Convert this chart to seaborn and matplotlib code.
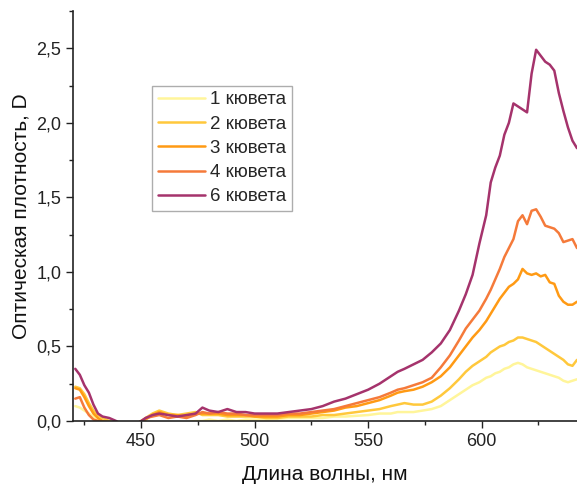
import numpy as np
import pandas as pd
import matplotlib
matplotlib.use('Agg')
import matplotlib.pyplot as plt
from matplotlib.ticker import MultipleLocator, FuncFormatter
import seaborn as sns

# wavelength grid, nm
wavelength = [421, 423, 425, 427, 429, 431, 433, 436, 439, 442, 445, 449,
              452, 455, 458, 462, 466, 470, 474, 477, 480, 484, 488, 492, 496, 500,
              505, 510, 515, 520, 525, 530, 535, 540, 545, 550, 555, 560,
              563, 566, 570, 574, 578, 582, 586, 590,
              593, 596, 599, 602,
              604, 606, 608, 610, 612, 614, 616, 618, 620, 622,
              624, 626, 628, 630, 632, 634, 636, 638, 640, 642]

cuvette_1 = [0.10, 0.09, 0.07, 0.05, 0.03, 0.01, 0.00, -0.03, -0.03, -0.03, -0.03, -0.03,
             -0.02, -0.01, -0.01, -0.01, -0.01, -0.01, 0.00, 0.00, 0.01, 0.00, 0.01, 0.00, 0.01, 0.01,
             0.01, 0.015, 0.02, 0.02, 0.02, 0.02, 0.03, 0.03, 0.035, 0.04, 0.05, 0.05,
             0.06, 0.06, 0.06, 0.07, 0.08, 0.10, 0.14, 0.18,
             0.21, 0.24, 0.26, 0.29,
             0.30, 0.32, 0.33, 0.35, 0.36, 0.38, 0.39, 0.38, 0.36, 0.35,
             0.34, 0.33, 0.32, 0.31, 0.30, 0.29, 0.27, 0.26, 0.27, 0.28]

cuvette_2 = [0.23, 0.22, 0.18, 0.12, 0.07, 0.04, 0.02, 0.00, -0.02, -0.03, -0.03, -0.01,
             0.02, 0.05, 0.07, 0.05, 0.04, 0.05, 0.06, 0.04, 0.04, 0.04, 0.03, 0.03, 0.03, 0.03,
             0.02, 0.02, 0.03, 0.03, 0.03, 0.04, 0.04, 0.05, 0.06, 0.07, 0.08, 0.10,
             0.11, 0.12, 0.11, 0.11, 0.13, 0.17, 0.22, 0.28,
             0.33, 0.37, 0.40, 0.43,
             0.46, 0.48, 0.50, 0.51, 0.53, 0.54, 0.56, 0.56, 0.55, 0.54,
             0.53, 0.51, 0.49, 0.47, 0.45, 0.43, 0.41, 0.38, 0.37, 0.41]

cuvette_3 = [0.22, 0.21, 0.16, 0.10, 0.05, 0.02, 0.00, -0.01, -0.03, -0.03, -0.03, -0.02,
             0.01, 0.04, 0.06, 0.04, 0.04, 0.03, 0.05, 0.05, 0.05, 0.05, 0.04, 0.04, 0.04, 0.03,
             0.03, 0.03, 0.04, 0.04, 0.05, 0.06, 0.07, 0.09, 0.10, 0.12, 0.14, 0.17,
             0.19, 0.20, 0.21, 0.23, 0.26, 0.30, 0.36, 0.44,
             0.50, 0.56, 0.61, 0.67,
             0.72, 0.77, 0.82, 0.86, 0.90, 0.92, 0.95, 1.02, 0.99, 0.98,
             0.99, 0.97, 0.98, 0.93, 0.92, 0.84, 0.80, 0.78, 0.78, 0.80]

cuvette_4 = [0.15, 0.16, 0.09, 0.04, 0.01, 0.00, -0.01, -0.02, -0.03, -0.03, -0.03, -0.02,
             0.02, 0.03, 0.04, 0.02, 0.03, 0.02, 0.04, 0.06, 0.05, 0.06, 0.05, 0.05, 0.04, 0.04,
             0.04, 0.04, 0.05, 0.05, 0.06, 0.07, 0.08, 0.10, 0.12, 0.14, 0.16, 0.19,
             0.21, 0.22, 0.24, 0.26, 0.29, 0.36, 0.44, 0.54,
             0.62, 0.68, 0.74, 0.82,
             0.88, 0.95, 1.02, 1.10, 1.16, 1.22, 1.34, 1.38, 1.32, 1.41,
             1.42, 1.37, 1.31, 1.30, 1.29, 1.26, 1.20, 1.21, 1.22, 1.16]

cuvette_6 = [0.35, 0.31, 0.24, 0.19, 0.11, 0.05, 0.03, 0.02, 0.00, -0.03, -0.03, -0.01,
             0.02, 0.04, 0.05, 0.04, 0.03, 0.04, 0.05, 0.09, 0.07, 0.06, 0.08, 0.06, 0.06, 0.05,
             0.05, 0.05, 0.06, 0.07, 0.08, 0.10, 0.13, 0.15, 0.18, 0.21, 0.25, 0.30,
             0.33, 0.35, 0.38, 0.41, 0.46, 0.52, 0.61, 0.74,
             0.85, 0.98, 1.19, 1.38,
             1.60, 1.70, 1.78, 1.92, 2.00, 2.13, 2.11, 2.09, 2.07, 2.33,
             2.49, 2.45, 2.41, 2.39, 2.35, 2.20, 2.08, 1.97, 1.88, 1.83]

labels = ['1 кювета', '2 кювета', '3 кювета', '4 кювета', '6 кювета']
colors = ['#fff59a', '#ffc83c', '#ff9a14', '#f57a3a', '#a5336c']

series = [cuvette_1, cuvette_2, cuvette_3, cuvette_4, cuvette_6]
frames = []
for lab, vals in zip(labels, series):
    frames.append(pd.DataFrame({'wl': wavelength, 'D': vals, 'sample': lab}))
df = pd.concat(frames, ignore_index=True)

sns.set_style('ticks')
plt.rcParams['font.family'] = ['Liberation Sans', 'DejaVu Sans']

fig = plt.figure(figsize=(5.77, 4.86), dpi=100)
ax = fig.add_axes([73 / 577, 65 / 486, 504 / 577, 410 / 486])

sns.lineplot(data=df, x='wl', y='D', hue='sample', palette=colors,
             linewidth=1.8, ax=ax, sort=False)

ax.set_xlim(420, 642)
ax.set_ylim(0, 2.75)
ax.xaxis.set_major_locator(MultipleLocator(50))
ax.xaxis.set_minor_locator(MultipleLocator(25))
ax.yaxis.set_major_locator(MultipleLocator(0.5))
ax.yaxis.set_minor_locator(MultipleLocator(0.25))
ax.yaxis.set_major_formatter(FuncFormatter(lambda v, p: f'{v:.1f}'.replace('.', ',')))
ax.tick_params(which='major', direction='out', length=5, width=1, labelsize=13,
               colors='#222222')
ax.tick_params(which='minor', direction='out', length=3, width=1, colors='#222222')

for side in ['top', 'right']:
    ax.spines[side].set_visible(False)
for side in ['left', 'bottom']:
    ax.spines[side].set_color('#222222')
    ax.spines[side].set_linewidth(1.2)

ax.set_xlabel('Длина волны, нм', fontsize=15, labelpad=11, color='#111111')
ax.set_ylabel('Оптическая плотность, D', fontsize=15, labelpad=4, color='#111111')

leg = ax.legend(loc='upper left', bbox_to_anchor=(0.157, 0.818), borderaxespad=0,
                fontsize=13.5, frameon=True, fancybox=False, handlelength=2.5,
                handletextpad=0.3, labelspacing=0.38, borderpad=0.3)
leg.get_frame().set_edgecolor('#999999')
leg.get_frame().set_linewidth(1.0)
for line in leg.get_lines():
    line.set_linewidth(1.8)

fig.savefig('out.png', dpi=100)
